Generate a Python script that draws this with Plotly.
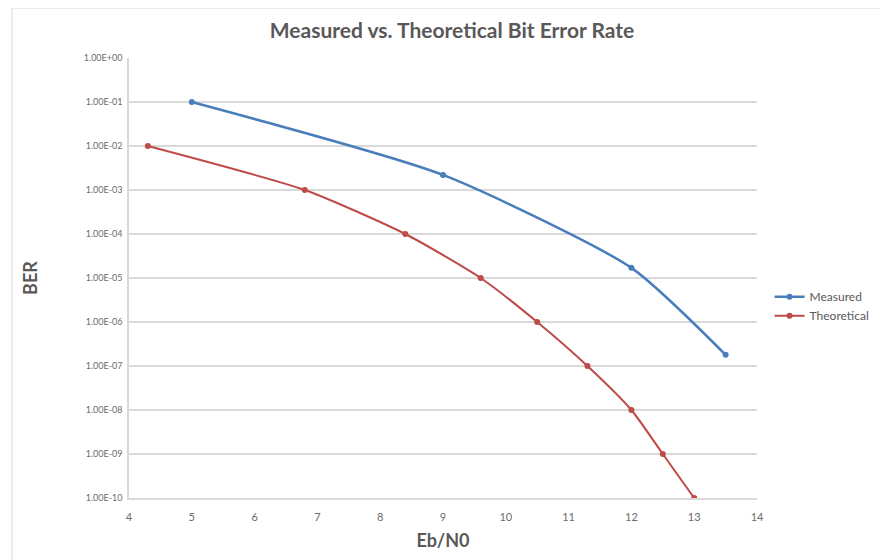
import plotly.graph_objects as go

measured_x = [5, 9, 12, 13.5]
measured_y = [1e-1, 2.2e-3, 1.7e-5, 1.8e-7]

theory_x = [4.3, 6.8, 8.4, 9.6, 10.5, 11.3, 12.0, 12.5, 13.0]
theory_y = [1e-2, 1e-3, 1e-4, 1e-5, 1e-6, 1e-7, 1e-8, 1e-9, 1e-10]

ytick_vals = [1e0, 1e-1, 1e-2, 1e-3, 1e-4, 1e-5, 1e-6, 1e-7, 1e-8, 1e-9, 1e-10]
ytick_text = ["1.00E+00", "1.00E-01", "1.00E-02", "1.00E-03", "1.00E-04", "1.00E-05",
              "1.00E-06", "1.00E-07", "1.00E-08", "1.00E-09", "1.00E-10"]
xtick_vals = [4, 5, 6, 7, 8, 9, 10, 11, 12, 13, 14]

FONT = "Lato, 'Open Sans', sans-serif"

# page has an 8px body margin; figure is sized so it ends at the window edge
W, H = 880, 552
L, T, PW, PH = 121, 50, 628, 440

fig = go.Figure()
fig.add_trace(go.Scatter(x=measured_x, y=measured_y, name="Measured",
                         mode="lines+markers", line=dict(color="#4A7EBB", width=2.5, shape="spline", smoothing=0.6),
                         marker=dict(size=6, color="#4A7EBB")))
fig.add_trace(go.Scatter(x=theory_x, y=theory_y, name="Theoretical",
                         mode="lines+markers", line=dict(color="#BE4B48", width=2, shape="spline", smoothing=0.6),
                         marker=dict(size=6, color="#BE4B48")))

fig.update_layout(
    width=W, height=H,
    margin=dict(l=L, r=W - L - PW, t=T, b=H - T - PH),
    paper_bgcolor="white", plot_bgcolor="white",
    font=dict(family=FONT, color="#595959"),
    title=dict(text="<b>Measured vs. Theoretical Bit Error Rate</b>", x=(452 - 8) / W, xanchor="center",
               y=1 - 23 / H, yanchor="middle", font=dict(size=21, color="#595959", family=FONT)),
    legend=dict(x=1.02, y=0.436, xanchor="left", yanchor="middle",
                font=dict(size=12, color="#595959"), bgcolor="rgba(0,0,0,0)", tracegroupgap=4),
    xaxis=dict(range=[4, 14], tickvals=xtick_vals, showgrid=False, zeroline=False,
               showline=True, linecolor="#D9D9D9", linewidth=1.5, ticks="",
               tickfont=dict(size=11, color="#6B6B6B"), ticklabelstandoff=8,
               title=dict(text="<b>Eb/N0</b>", font=dict(size=18, color="#595959"), standoff=12)),
    yaxis=dict(type="log", range=[-10, 0], tickvals=ytick_vals, ticktext=ytick_text,
               showgrid=True, gridcolor="#D9D9D9", gridwidth=1.5, zeroline=False,
               showline=True, linecolor="#D9D9D9", linewidth=1.5, ticks="",
               tickfont=dict(size=9, color="#6B6B6B"), ticklabelstandoff=3,
               title=dict(text="<b>BER</b>", font=dict(size=18, color="#595959"), standoff=41)),
    showlegend=True,
)

fig.add_shape(type="rect", xref="paper", yref="paper",
              x0=(4 - L) / PW, x1=(W + 5 - L) / PW, y0=-(H - T - PH + 5) / PH, y1=(PH + T) / PH,
              line=dict(color="#D9D9D9", width=1), layer="below")

fig.write_html("out.html")
